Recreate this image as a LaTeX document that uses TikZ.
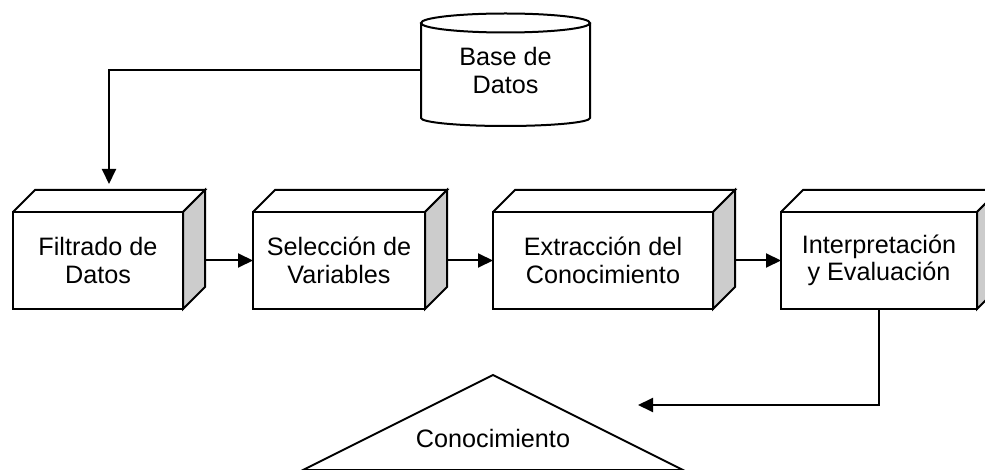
\documentclass[tikz,border=0pt]{standalone}
\usepackage{fontspec}
\setmainfont{Liberation Sans}
\usetikzlibrary{arrows.meta}
\tikzset{
    etapa/.style={draw, outer sep=0pt, minimum height=48.5pt, align=center, font=\fontsize{12.6}{13.8}\selectfont},
    flecha/.style={-{Triangle[length=7.5pt, width=7pt]}},
}

\begin{document}
\begin{tikzpicture}[x=0.5pt, y=-0.5pt, line width=1pt]
    \useasboundingbox (0,0) rectangle (985,470);

    % Base de datos
    \node[outer sep=0pt, minimum width=84.5pt, minimum height=47.5pt, align=center, font=\fontsize{12.6}{13.8}\selectfont] (db) at (505.5,70.5) {Base de\\Datos};
    \draw (db.north) ellipse [x radius=42.25pt, y radius=4.75pt];
    \draw (db.north west) -- (db.south west) arc [start angle=180, end angle=360, x radius=42.25pt, y radius=4pt] -- (db.north east);

    % Etapas
    \node[etapa, minimum width=85pt] (filtrado) at (98,260.5) {Filtrado de\\Datos};
    \node[etapa, minimum width=86pt] (seleccion) at (339,260.5) {Selecci\'on de\\Variables};
    \node[etapa, minimum width=110pt] (extraccion) at (603,260.5) {Extracci\'on del\\Conocimiento};
    \node[etapa, minimum width=98pt] (interp) at (879,260.5) {Interpretaci\'on\\y Evaluaci\'on};
    \foreach \n in {filtrado, seleccion, extraccion, interp} {
        \draw (\n.north west) -- ++(22,-22) -- ([shift={(22,-22)}]\n.north east) -- (\n.north east);
        \draw[fill=gray!40] (\n.north east) -- ++(22,-22) -- ([shift={(22,-22)}]\n.south east) -- (\n.south east) -- cycle;
    }

    % Conocimiento
    \node[font=\fontsize{12.6}{13.8}\selectfont] (conoc) at (493,438.5) {Conocimiento};
    \draw (303,470) -- (493,375) -- (683,470) -- cycle;

    % Conectores
    \coordinate (entrada) at (109,184);
    \coordinate (llegada) at (638,405);
    \draw[flecha] (db.west) -| (entrada);
    \draw[flecha] ([xshift=11pt]filtrado.east) -- (seleccion.west);
    \draw[flecha] ([xshift=11pt]seleccion.east) -- (extraccion.west);
    \draw[flecha] ([xshift=11pt]extraccion.east) -- (interp.west);
    \draw[flecha] (interp.south) |- (llegada);
\end{tikzpicture}
\end{document}
